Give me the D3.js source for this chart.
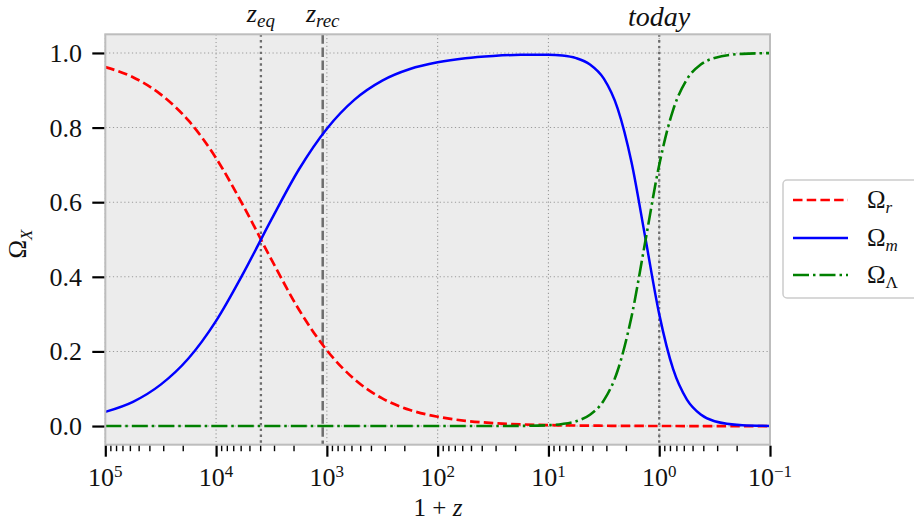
<!DOCTYPE html>
<html>
<head>
<meta charset="utf-8">
<script src="https://cdn.jsdelivr.net/npm/d3@7"></script>
<style>
  body { margin: 0; background: #fff; }
  text { font-family: "Liberation Serif", "DejaVu Serif", serif; fill: #111; }
</style>
</head>
<body>
<svg id="chart" width="914" height="523"></svg>
<script>
// Density parameters against 1+z, sampled on log10(1+z)
const log1pz = [5, 4.75, 4.5, 4.25, 4, 3.75, 3.5, 3.25, 3, 2.75, 2.5, 2.25, 2, 1.75, 1.5, 1.25, 1,
                0.875, 0.75, 0.625, 0.5, 0.375, 0.25, 0.125, 0, -0.125, -0.25, -0.375, -0.5, -0.75, -1];
const omegaR = [0.962, 0.935, 0.889, 0.819, 0.718, 0.588, 0.446, 0.311, 0.203, 0.125, 0.074, 0.043, 0.025,
                0.014, 0.008, 0.0045, 0.0025, 0.0019, 0.0014, 0.0010, 0.0008, 0.0005, 0.0003, 0.0002, 0.0001,
                0.0001, 0, 0, 0, 0, 0];
const omegaM = [0.038, 0.065, 0.111, 0.181, 0.282, 0.412, 0.554, 0.689, 0.797, 0.875, 0.926, 0.957, 0.975,
                0.986, 0.992, 0.995, 0.995, 0.993, 0.986, 0.969, 0.931, 0.851, 0.707, 0.504, 0.300,
                0.153, 0.071, 0.031, 0.013, 0.0024, 0.0004];
const omegaL = [0, 0, 0, 0, 0, 0, 0, 0, 0, 0, 0, 0, 0,
                0.00001, 0.00007, 0.0004, 0.0023, 0.0055, 0.0129, 0.0301, 0.0687, 0.1488, 0.2931, 0.4959, 0.6999,
                0.8469, 0.9292, 0.9689, 0.9866, 0.9976, 0.9996];

const xMajorTicks = [1e5, 1e4, 1e3, 1e2, 1e1, 1e0, 1e-1];
const xTickExponents = ["5", "4", "3", "2", "1", "0", "\u22121"];
const yTicks = [0, 0.2, 0.4, 0.6, 0.8, 1.0];

// Epoch markers: 1+z of equality, recombination, today
const epochValues = [3940, 1090, 1];

const seriesNames = ["r", "m", "\u039B"];
const seriesColors = ["#ff0000", "#0000ff", "#008000"];

const svg = d3.select("#chart");
const pLeft = 105.3, pRight = 770, pTop = 34.3, pBottom = 444.7;

const x = d3.scaleLog().domain([1e5, 1e-1]).range([pLeft, pRight]);
const y = d3.scaleLinear().domain([-0.05, 1.05]).range([pBottom, pTop]);

// plot background
svg.append("rect").attr("x", pLeft).attr("y", pTop)
  .attr("width", pRight - pLeft).attr("height", pBottom - pTop).attr("fill", "#ececec");

svg.append("clipPath").attr("id", "plotclip").append("rect")
  .attr("x", pLeft).attr("y", pTop).attr("width", pRight - pLeft).attr("height", pBottom - pTop);

// grid
const grid = svg.append("g").attr("stroke", "#9a9a9a").attr("stroke-width", 1.1)
  .attr("stroke-dasharray", "1.2,2.6");
grid.selectAll("line.gx").data(xMajorTicks).join("line")
  .attr("x1", d => x(d)).attr("x2", d => x(d)).attr("y1", pTop).attr("y2", pBottom);
grid.selectAll("line.gy").data(yTicks).join("line")
  .attr("y1", d => y(d)).attr("y2", d => y(d)).attr("x1", pLeft).attr("x2", pRight);

// epoch marker lines
const epochStyles = [
  { dash: "2.4,3.4", width: 2.3 },
  { dash: "9.5,3.6", width: 2.5 },
  { dash: "2.4,3.4", width: 2.3 }
];
svg.append("g").selectAll("line").data(epochValues).join("line")
  .attr("x1", d => x(d)).attr("x2", d => x(d)).attr("y1", pTop).attr("y2", pBottom)
  .attr("stroke", "#6e6e6e")
  .attr("stroke-width", (d, i) => epochStyles[i].width)
  .attr("stroke-dasharray", (d, i) => epochStyles[i].dash);

// curves
const series = [omegaR, omegaM, omegaL];
const dashes = ["9.5,4.2", null, "16,4,2.5,4"];
const widths = [2.7, 2.5, 2.6];
const line = d3.line()
  .x(d => x(Math.pow(10, d[0])))
  .y(d => y(d[1]))
  .curve(d3.curveMonotoneX);
const curves = svg.append("g").attr("clip-path", "url(#plotclip)");
series.forEach((vals, i) => {
  const pts = log1pz.map((l, j) => [l, vals[j]]);
  curves.append("path").attr("d", line(pts)).attr("fill", "none")
    .attr("stroke", seriesColors[i]).attr("stroke-width", widths[i])
    .attr("stroke-dasharray", dashes[i]);
});

// spines
svg.append("rect").attr("x", pLeft).attr("y", pTop)
  .attr("width", pRight - pLeft).attr("height", pBottom - pTop)
  .attr("fill", "none").attr("stroke", "#bdbdbd").attr("stroke-width", 2);

// x axis ticks
const minorTicks = [];
for (let e = -1; e < 5; e++) for (let k = 2; k <= 9; k++) minorTicks.push(k * Math.pow(10, e));
const xAxisMajor = d3.axisBottom(x).tickValues(xMajorTicks).tickFormat("").tickSize(11).tickSizeOuter(0);
const xAxisMinor = d3.axisBottom(x).tickValues(minorTicks).tickFormat("").tickSize(5.5).tickSizeOuter(0);
const gxMaj = svg.append("g").attr("transform", `translate(0,${pBottom + 1})`).call(xAxisMajor);
const gxMin = svg.append("g").attr("transform", `translate(0,${pBottom + 1})`).call(xAxisMinor);
[gxMaj, gxMin].forEach(g => { g.select(".domain").remove(); });
gxMaj.selectAll(".tick line").attr("stroke", "#000").attr("stroke-width", 2.2);
gxMin.selectAll(".tick line").attr("stroke", "#000").attr("stroke-width", 1.4);

const xl = svg.append("g");
xMajorTicks.forEach((t, i) => {
  const txt = xl.append("text").attr("x", x(t)).attr("y", 485.5).attr("text-anchor", "middle")
    .attr("font-size", 26);
  txt.append("tspan").text("10");
  txt.append("tspan").attr("dy", -9).attr("font-size", 17).text(xTickExponents[i]);
});

// y axis ticks
const yAxis = d3.axisLeft(y).tickValues(yTicks).tickFormat("").tickSize(12).tickSizeOuter(0);
const gy = svg.append("g").attr("transform", `translate(${pLeft - 1},0)`).call(yAxis);
gy.select(".domain").remove();
gy.selectAll(".tick line").attr("stroke", "#000").attr("stroke-width", 2.2);
svg.append("g").selectAll("text").data(yTicks).join("text")
  .attr("x", 82).attr("y", d => y(d) + 9).attr("text-anchor", "end")
  .attr("font-size", 26).text(d => d.toFixed(1));

// axis titles
const xt = svg.append("text").attr("x", 438).attr("y", 516)
  .attr("text-anchor", "middle").attr("font-size", 25);
xt.append("tspan").text("1 + ");
xt.append("tspan").attr("font-style", "italic").text("z");

const yt = svg.append("text").attr("transform", "translate(26,244) rotate(-90)")
  .attr("text-anchor", "middle").attr("font-size", 25);
yt.append("tspan").text("\u03A9");
yt.append("tspan").attr("dy", 6).attr("font-size", 17).attr("font-style", "italic").text("X");

// epoch labels
const epochLabels = [["z", "eq"], ["z", "rec"], ["today", null]];
const epochBaselines = [22, 22, 26];
epochLabels.forEach((lab, i) => {
  const t = svg.append("text").attr("x", x(epochValues[i])).attr("y", epochBaselines[i])
    .attr("text-anchor", "middle").attr("font-size", lab[1] ? 26 : 28).attr("font-style", "italic");
  t.append("tspan").text(lab[0]);
  if (lab[1]) t.append("tspan").attr("dy", 5).attr("font-size", 19).text(lab[1]);
});

// legend
const lg = svg.append("g");
lg.append("rect").attr("x", 783).attr("y", 180).attr("width", 140).attr("height", 118)
  .attr("rx", 4).attr("fill", "#fff").attr("stroke", "#cccccc").attr("stroke-width", 1.5);
const legendY = [200, 238, 275];
seriesNames.forEach((n, i) => {
  lg.append("line").attr("x1", 793).attr("x2", 848).attr("y1", legendY[i]).attr("y2", legendY[i])
    .attr("stroke", seriesColors[i]).attr("stroke-width", widths[i])
    .attr("stroke-dasharray", dashes[i]);
  const t = lg.append("text").attr("x", 867).attr("y", legendY[i] + 8).attr("font-size", 25);
  t.append("tspan").text("\u03A9");
  t.append("tspan").attr("dy", 5).attr("font-size", 17)
    .attr("font-style", i === 2 ? "normal" : "italic").text(n);
});
</script>
</body>
</html>
